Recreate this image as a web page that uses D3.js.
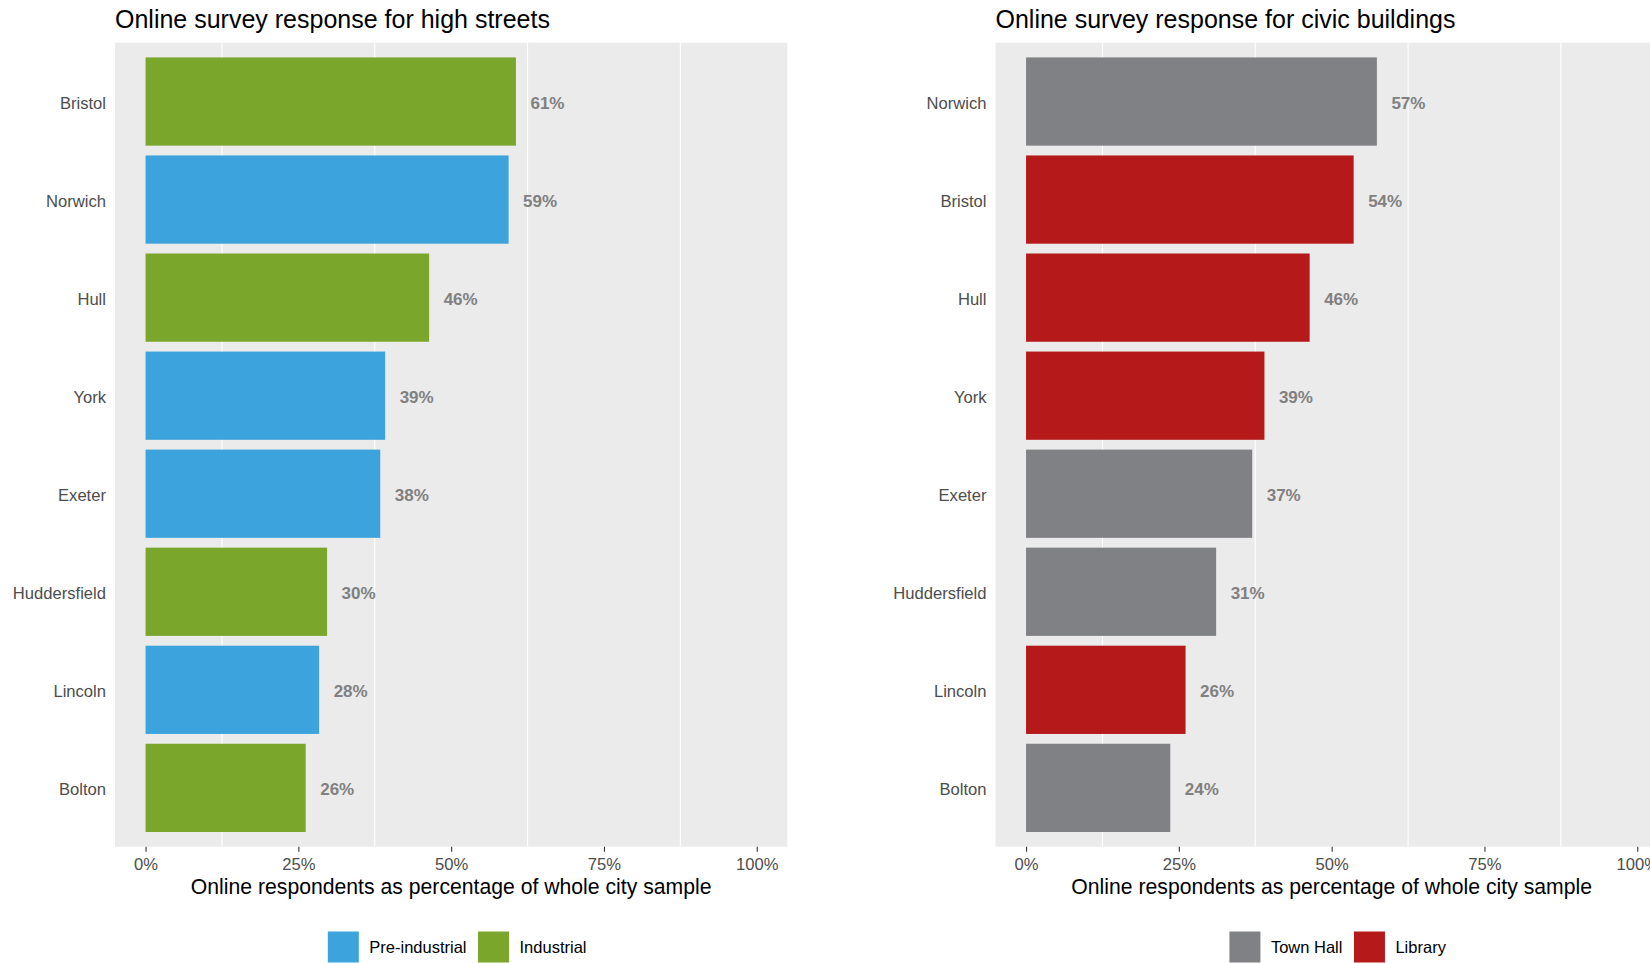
<!DOCTYPE html>
<html>
<head>
<meta charset="utf-8">
<script src="https://cdn.jsdelivr.net/npm/d3@7"></script>
<style>
  html, body { margin: 0; padding: 0; background: #fff; }
  svg { display: block; }
  text { font-family: "Liberation Sans", Arial, sans-serif; }
</style>
</head>
<body>
<svg id="chart" width="1650" height="963"></svg>
<script>
// ---- Data ----
const highStreetCities = ["Bristol", "Norwich", "Hull", "York", "Exeter", "Huddersfield", "Lincoln", "Bolton"];
const highStreetValues = [0.606, 0.594, 0.464, 0.392, 0.384, 0.297, 0.284, 0.262];
const highStreetTypes  = ["Industrial", "Pre-industrial", "Industrial", "Pre-industrial", "Pre-industrial", "Industrial", "Pre-industrial", "Industrial"];
const highStreetLegend = ["Pre-industrial", "Industrial"];

const civicCities = ["Norwich", "Bristol", "Hull", "York", "Exeter", "Huddersfield", "Lincoln", "Bolton"];
const civicValues = [0.574, 0.536, 0.464, 0.390, 0.370, 0.311, 0.261, 0.236];
const civicTypes  = ["Town Hall", "Library", "Library", "Library", "Town Hall", "Town Hall", "Library", "Town Hall"];
const civicLegend = ["Town Hall", "Library"];

const tickValues = [0, 0.25, 0.5, 0.75, 1];
const minorGrid = [0.125, 0.375, 0.625, 0.875];

const titles = ["Online survey response for high streets", "Online survey response for civic buildings"];
const xTitle = "Online respondents as percentage of whole city sample";

const colorMap = {
  "Pre-industrial": "#3ca3dc",
  "Industrial": "#7ba62c",
  "Town Hall": "#808185",
  "Library": "#b5191a"
};

const svg = d3.select("#chart");

function drawPanel(opts) {
  const { left, cities, values, types, legend, title } = opts;
  const panelW = 672.3, top = 42.7, bottom = 846.7;
  const right = left + panelW;
  const g = svg.append("g");

  const x = d3.scaleLinear().domain([-0.05, 1.05]).range([left, right]);
  const y = d3.scaleBand().domain(cities).range([top, bottom]).paddingInner(0.1).paddingOuter(0.15);

  // panel background
  g.append("rect").attr("x", left).attr("y", top).attr("width", panelW).attr("height", bottom - top).attr("fill", "#ebebeb");

  // minor gridlines
  g.selectAll(".grid").data(minorGrid).join("line")
    .attr("x1", d => x(d)).attr("x2", d => x(d))
    .attr("y1", top).attr("y2", bottom)
    .attr("stroke", "#ffffff").attr("stroke-width", 1.1);

  // bars
  const data = cities.map((c, i) => ({ city: c, value: values[i], type: types[i] }));
  g.selectAll(".bar").data(data).join("rect")
    .attr("x", x(0)).attr("y", d => y(d.city))
    .attr("width", d => x(d.value) - x(0)).attr("height", y.bandwidth())
    .attr("fill", d => colorMap[d.type]);

  // value labels
  g.selectAll(".val").data(data).join("text")
    .attr("x", d => x(d.value) + 14.5)
    .attr("y", d => y(d.city) + y.bandwidth() / 2)
    .attr("dy", "0.42em")
    .attr("font-size", 17).attr("font-weight", "bold").attr("fill", "#808080")
    .text(d => Math.round(d.value * 100) + "%");

  // y axis labels
  const yAxis = d3.axisLeft(y).tickSize(0).tickPadding(9);
  const yg = g.append("g").attr("transform", `translate(${left},0)`).call(yAxis);
  yg.select(".domain").remove();
  yg.selectAll("text").attr("font-size", 16.6).attr("fill", "#4d4d4d").attr("dy", "0.42em")
    .attr("font-family", "Liberation Sans, Arial, sans-serif");

  // x axis
  const xAxis = d3.axisBottom(x).tickValues(tickValues).tickSize(5).tickPadding(7)
    .tickFormat(d => Math.round(d * 100) + "%");
  const xg = g.append("g").attr("transform", `translate(0,${bottom})`).call(xAxis);
  xg.select(".domain").remove();
  xg.selectAll(".tick line").attr("stroke", "#333333").attr("stroke-width", 1.1);
  xg.selectAll("text").attr("font-size", 16.6).attr("fill", "#4d4d4d").attr("font-family", "Liberation Sans, Arial, sans-serif");

  // axis title
  g.append("text").attr("x", (left + right) / 2).attr("y", 894)
    .attr("text-anchor", "middle").attr("font-size", 21.2).attr("fill", "#000")
    .text(xTitle);

  // title
  g.append("text").attr("x", left).attr("y", 27.5)
    .attr("font-size", 25).attr("fill", "#000")
    .text(title);

  // legend
  const keySize = 31, keyGap = 10.5, itemGap = 11.5, fs = 16.5;
  const lg = g.append("g");
  let cx = 0;
  legend.forEach((name) => {
    const item = lg.append("g").attr("transform", `translate(${cx},0)`);
    item.append("rect").attr("x", 0).attr("y", 0).attr("width", keySize).attr("height", keySize).attr("fill", colorMap[name]);
    const t = item.append("text").attr("x", keySize + keyGap).attr("y", keySize / 2).attr("dy", "0.38em")
      .attr("font-size", fs).attr("fill", "#000").text(name);
    const w = t.node().getComputedTextLength();
    cx += keySize + keyGap + w + itemGap;
  });
  const totalW = cx - itemGap;
  lg.attr("transform", `translate(${(left + right) / 2 + 6 - totalW / 2},931.5)`);
}

drawPanel({ left: 115, cities: highStreetCities, values: highStreetValues, types: highStreetTypes, legend: highStreetLegend, title: titles[0] });
drawPanel({ left: 995.5, cities: civicCities, values: civicValues, types: civicTypes, legend: civicLegend, title: titles[1] });
</script>
</body>
</html>
